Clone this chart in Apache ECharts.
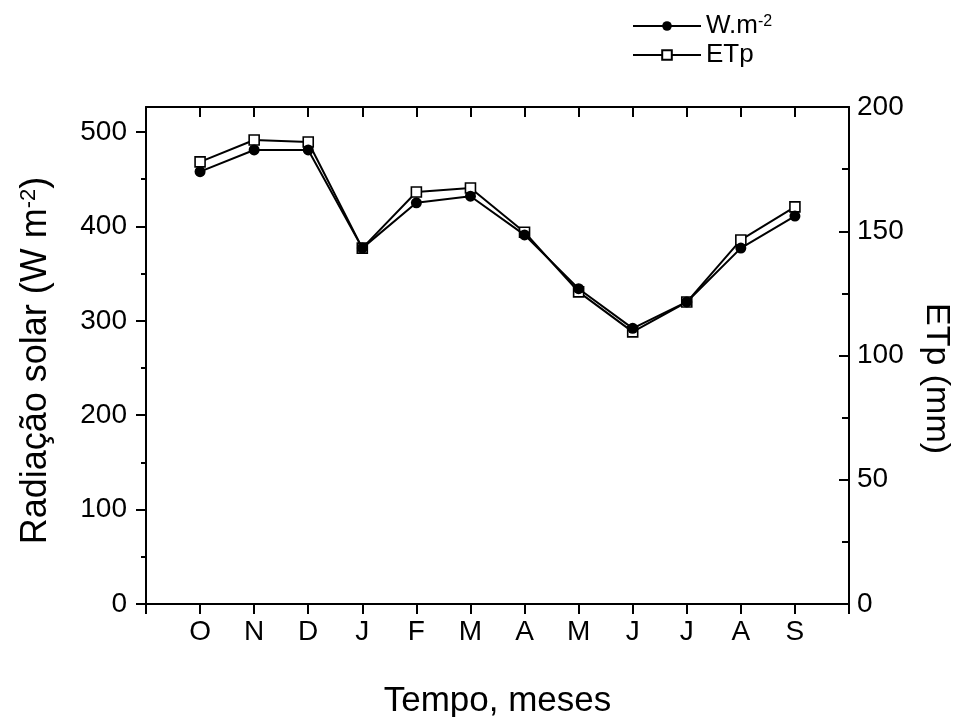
<!DOCTYPE html>
<html>
<head>
<meta charset="utf-8">
<script src="https://cdn.jsdelivr.net/npm/echarts@6/dist/echarts.min.js"></script>
<style>html,body{margin:0;padding:0;background:#fff;overflow:hidden}#c{width:954px;height:717px}</style>
</head>
<body>
<div id="c"></div>
<script>
const months = ['', 'O', 'N', 'D', 'J', 'F', 'M', 'A', 'M', 'J', 'J', 'A', 'S', ''];
const radiation = [null, 458, 481, 481, 377, 425, 432, 391, 334, 292, 320, 377, 411, null];
const etp = [null, 177.9, 186.7, 185.9, 143.2, 165.8, 167.4, 149.6, 125.6, 109.5, 121.5, 146.5, 159.8, null];
const leftTicks = [0, 100, 200, 300, 400, 500];
const rightTicks = [0, 50, 100, 150, 200];

const FONT = '"Liberation Sans", Arial, sans-serif';
const AX = {color: '#000', width: 2};
const chart = echarts.init(document.getElementById('c'), null, {renderer: 'canvas'});
const option = {
  backgroundColor: '#fff',
  animation: false,
  textStyle: {fontFamily: FONT, color: '#000'},
  grid: {left: 146, right: 105, top: 107, bottom: 113, containLabel: false, outerBoundsMode: 'none'},
  legend: {
    orient: 'vertical', left: 632, top: 13, padding: 0,
    itemWidth: 68, itemHeight: 12, itemGap: 3,
    data: ['W.m-2', 'ETp'],
    formatter: n => n === 'W.m-2' ? 'W.m{sup|-2}' : n,
    textStyle: {fontFamily: FONT, fontSize: 26, color: '#000', lineHeight: 25,
      rich: {sup: {fontFamily: FONT, fontSize: 16, color: '#000', verticalAlign: 'top', lineHeight: 14}}}
  },
  xAxis: [{
    type: 'category', data: months, boundaryGap: false, position: 'bottom',
    name: 'Tempo, meses', nameLocation: 'middle', nameGap: 80,
    nameTextStyle: {fontFamily: FONT, fontSize: 35, color: '#000'},
    axisLine: {show: true, onZero: false, lineStyle: AX},
    axisTick: {show: true, inside: false, length: 10, interval: 0, lineStyle: AX},
    axisLabel: {show: true, interval: 0, fontFamily: FONT, fontSize: 28, color: '#000', margin: 14},
    splitLine: {show: false}
  }, {
    type: 'category', data: months, boundaryGap: false, position: 'top',
    axisLine: {show: true, onZero: false, lineStyle: AX},
    axisTick: {show: true, inside: true, length: 10, interval: 0, lineStyle: AX},
    axisLabel: {show: false},
    splitLine: {show: false}
  }],
  yAxis: [{
    type: 'value', position: 'left', min: 0, max: 526.5, interval: 100,
    name: 'Radiação solar (W m{sup|-2})', nameLocation: 'middle', nameGap: 92, nameRotate: 90,
    nameTextStyle: {fontFamily: FONT, fontSize: 36, color: '#000', padding: [0, 10, 0, 0],
      rich: {sup: {fontFamily: FONT, fontSize: 22, color: '#000', verticalAlign: 'top', lineHeight: 18}}},
    axisLine: {show: true, onZero: false, lineStyle: AX},
    axisTick: {show: true, inside: false, length: 10, customValues: leftTicks, lineStyle: AX},
    minorTick: {show: true, splitNumber: 2, length: 5, lineStyle: AX},
    axisLabel: {show: true, customValues: leftTicks, fontFamily: FONT, fontSize: 28, color: '#000', margin: 19},
    splitLine: {show: false}, minorSplitLine: {show: false}
  }, {
    type: 'value', position: 'right', min: 0, max: 200, interval: 50,
    name: 'ETp (mm)', nameLocation: 'middle', nameGap: 70, nameRotate: -90,
    nameTextStyle: {fontFamily: FONT, fontSize: 34, color: '#000', padding: [0, 0, 0, 46]},
    axisLine: {show: true, onZero: false, lineStyle: AX},
    axisTick: {show: true, inside: true, length: 10, lineStyle: AX},
    minorTick: {show: true, splitNumber: 2, length: 7, lineStyle: AX},
    axisLabel: {show: true, fontFamily: FONT, fontSize: 28, color: '#000', margin: 8},
    splitLine: {show: false}, minorSplitLine: {show: false}
  }],
  series: [{
    name: 'ETp', type: 'line', xAxisIndex: 0, yAxisIndex: 1, data: etp,
    symbol: 'rect', symbolSize: 10, showAllSymbol: true, connectNulls: false,
    lineStyle: {color: '#000', width: 2},
    itemStyle: {color: '#fff', borderColor: '#000', borderWidth: 1.6},
    z: 2
  }, {
    name: 'W.m-2', type: 'line', xAxisIndex: 0, yAxisIndex: 0, data: radiation,
    symbol: 'circle', symbolSize: 11, showAllSymbol: true, connectNulls: false,
    lineStyle: {color: '#000', width: 2},
    itemStyle: {color: '#000', borderColor: '#000', borderWidth: 0},
    z: 3
  }]
};
chart.setOption(option);
</script>
</body>
</html>
